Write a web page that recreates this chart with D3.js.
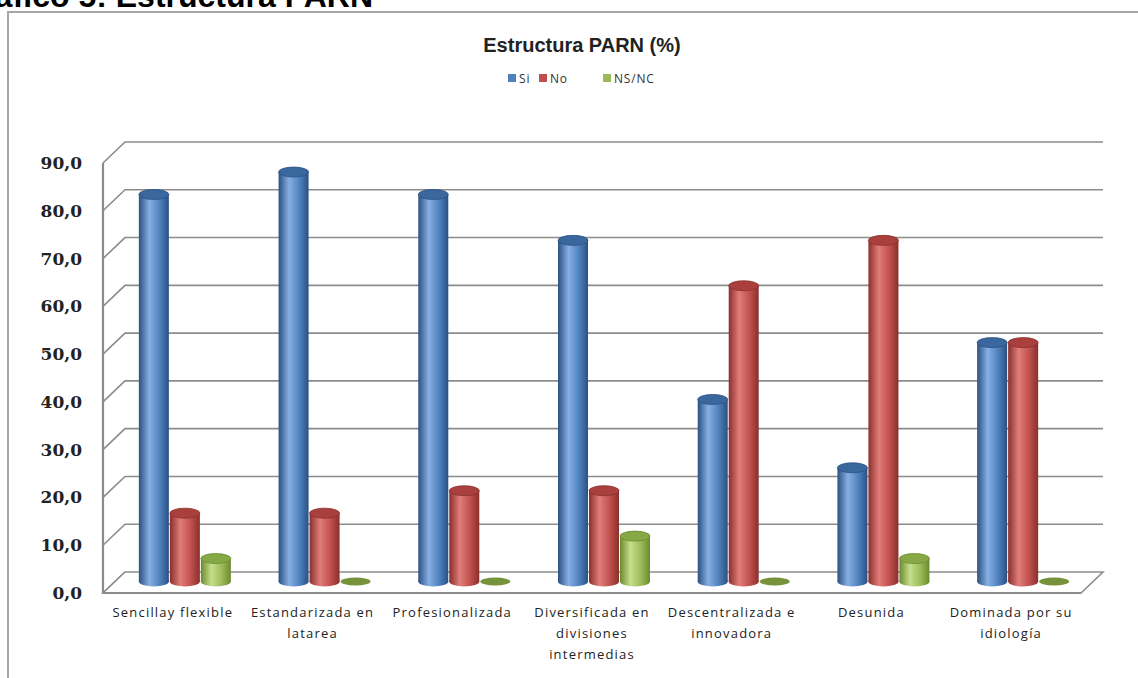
<!DOCTYPE html>
<html>
<head>
<meta charset="utf-8">
<script src="https://cdn.jsdelivr.net/npm/d3@7"></script>
<style>
  body { margin: 0; background: #fff; }
  svg { display: block; }
</style>
</head>
<body>
<div id="chart"></div>
<script>
// datos
var categories = [
    "Sencillay flexible",
    "Estandarizada  en\nlatarea",
    "Profesionalizada",
    "Diversificada en\ndivisiones\nintermedias",
    "Descentralizada e\ninnovadora",
    "Desunida",
    "Dominada por su\nidiología"
];
var seriesNames = ["Si", "No", "NS/NC"];
var siValues = [81.0, 85.7, 81.0, 71.4, 38.1, 23.8, 50.0];
var noValues = [14.3, 14.3, 19.0, 19.0, 61.9, 71.4, 50.0];
var nsValues = [4.8, 0, 0, 9.5, 0, 4.8, 0];
var yTicks = [0, 10, 20, 30, 40, 50, 60, 70, 80, 90];

var seriesColors = [
    { dark: "#2b5082", mid: "#4f81bd", light: "#86afe3", top: "#3b679f" },
    { dark: "#8a2f2c", mid: "#c0504d", light: "#e07d7a", top: "#a9403d" },
    { dark: "#6a8a2e", mid: "#9bbb59", light: "#c6de8c", top: "#86a845" }
];

var width = 1138, height = 678;
var depthX = 22, depthY = -21;
var barShiftX = 12, barShiftY = -11.5;
var radius = 15;

var svg = d3.select("#chart").append("svg")
    .attr("width", width)
    .attr("height", height);

// gradientes de los cilindros
var defs = svg.append("defs");
seriesColors.forEach(function(c, i) {
    var g = defs.append("linearGradient")
        .attr("id", "cyl" + i)
        .attr("x1", "0%").attr("x2", "100%").attr("y1", "0%").attr("y2", "0%");
    g.append("stop").attr("offset", "0%").attr("stop-color", c.dark);
    g.append("stop").attr("offset", "35%").attr("stop-color", c.light);
    g.append("stop").attr("offset", "70%").attr("stop-color", c.mid);
    g.append("stop").attr("offset", "100%").attr("stop-color", c.dark);
});

// titulo cortado arriba (como en el original)
svg.append("text")
    .attr("x", 373).attr("y", 7)
    .attr("text-anchor", "end")
    .style("font-family", "Liberation Sans, Arial, sans-serif")
    .style("font-weight", "bold")
    .style("font-size", "32px")
    .text("Gráfico 5: Estructura PARN");

// marco del area del grafico
svg.append("path")
    .attr("d", "M8,678 L8,12 L1138,12")
    .attr("fill", "none")
    .attr("stroke", "#a6a6a6")
    .attr("stroke-width", 2);

var x = d3.scaleBand().domain(d3.range(categories.length)).range([103, 1081]);
var xSeries = d3.scaleBand().domain(d3.range(seriesNames.length)).range([-46.5, 46.5]);
var y = d3.scaleLinear().domain([0, 90]).range([593, 163]);

var x0 = x.range()[0], x1 = x.range()[1];

// paredes y lineas de division
var grid = svg.append("g").attr("fill", "none").attr("stroke", "#8c8c8c").attr("stroke-width", 1.6);
grid.selectAll("path.grid")
    .data(yTicks)
    .enter().append("path")
    .attr("class", "grid")
    .attr("d", function(t) {
        var yy = y(t);
        var p = "M" + x0 + "," + yy + " L" + (x0 + depthX) + "," + (yy + depthY);
        if (t > 0) p += " L" + (x1 + depthX) + "," + (yy + depthY);
        return p;
    });

// suelo
grid.append("path")
    .attr("d", "M" + x0 + "," + y(0) + " L" + x1 + "," + y(0) + " L" + (x1 + depthX) + "," + (y(0) + depthY) +
        " L" + (x0 + depthX) + "," + (y(0) + depthY) + " Z")
    .attr("fill", "#fff");
grid.append("path")
    .attr("d", "M" + x0 + "," + y(90) + " L" + x0 + "," + y(0) + " L" + x1 + "," + y(0))
    .attr("stroke-width", 2.2);

// eje y
var yAxis = d3.axisLeft(y).tickValues(yTicks).tickSize(0).tickPadding(21)
    .tickFormat(function(d) { return d.toFixed(1).replace(".", ","); });
var yG = svg.append("g").attr("transform", "translate(" + x0 + ",0)").call(yAxis);
yG.select(".domain").remove();
yG.selectAll("text")
    .style("font-family", "DejaVu Serif, serif")
    .style("font-weight", "bold")
    .style("font-size", "17px")
    .attr("fill", "#222");

// cilindros
var allValues = [siValues, noValues, nsValues];
var bars = [];
categories.forEach(function(cat, ci) {
    allValues.forEach(function(vals, si) {
        bars.push({ cat: ci, series: si, value: vals[ci] });
    });
});

var barG = svg.append("g");
var bar = barG.selectAll("g.bar")
    .data(bars)
    .enter().append("g")
    .attr("class", "bar");

bar.each(function(d) {
    var g = d3.select(this);
    var cx = x(d.cat) + x.bandwidth() / 2 + xSeries(d.series) + xSeries.bandwidth() / 2 + barShiftX;
    var yBottom = y(0) + barShiftY;
    var yTop = y(d.value) + barShiftY;
    var c = seriesColors[d.series];
    if (d.value <= 0) {
        g.append("ellipse")
            .attr("cx", cx).attr("cy", yBottom)
            .attr("rx", radius).attr("ry", 4)
            .attr("fill", "#76933c");
        return;
    }
    g.append("ellipse")
        .attr("cx", cx).attr("cy", yBottom)
        .attr("rx", radius).attr("ry", 5)
        .attr("fill", "url(#cyl" + d.series + ")");
    g.append("rect")
        .attr("x", cx - radius).attr("y", yTop)
        .attr("width", radius * 2).attr("height", yBottom - yTop)
        .attr("fill", "url(#cyl" + d.series + ")");
    g.append("ellipse")
        .attr("cx", cx).attr("cy", yTop)
        .attr("rx", radius).attr("ry", 5)
        .attr("fill", c.top)
        .attr("stroke", c.dark)
        .attr("stroke-width", 0.8);
});

// etiquetas del eje x
var xLabels = svg.append("g")
    .style("font-family", "Open Sans, sans-serif")
    .style("font-size", "13px")
    .style("letter-spacing", "1.2px")
    .attr("fill", "#222")
    .attr("text-anchor", "middle");
xLabels.selectAll("text")
    .data(categories)
    .enter().append("text")
    .attr("x", function(d, i) { return x(i) + x.bandwidth() / 2; })
    .attr("y", 617)
    .each(function(d) {
        var t = d3.select(this);
        d.split("\n").forEach(function(line, li) {
            t.append("tspan")
                .attr("x", t.attr("x"))
                .attr("dy", li === 0 ? 0 : 21)
                .text(line);
        });
    });

// titulo del grafico
svg.append("text")
    .attr("x", 582).attr("y", 52)
    .attr("text-anchor", "middle")
    .style("font-family", "Liberation Sans, Arial, sans-serif")
    .style("font-weight", "bold")
    .style("font-size", "20px")
    .attr("fill", "#222")
    .text("Estructura PARN (%)");

// leyenda
var legendX = [508, 539, 603];
var legend = svg.append("g")
    .style("font-family", "Open Sans, sans-serif")
    .style("font-size", "12px")
    .style("letter-spacing", "0.8px");
var item = legend.selectAll("g")
    .data(seriesNames)
    .enter().append("g")
    .attr("transform", function(d, i) { return "translate(" + legendX[i] + ",74)"; });
item.append("rect")
    .attr("width", 8).attr("height", 8)
    .attr("fill", function(d, i) { return seriesColors[i].mid; });
item.append("text")
    .attr("x", 11).attr("y", 8.5)
    .attr("fill", "#333")
    .text(function(d) { return d; });
</script>
</body>
</html>
